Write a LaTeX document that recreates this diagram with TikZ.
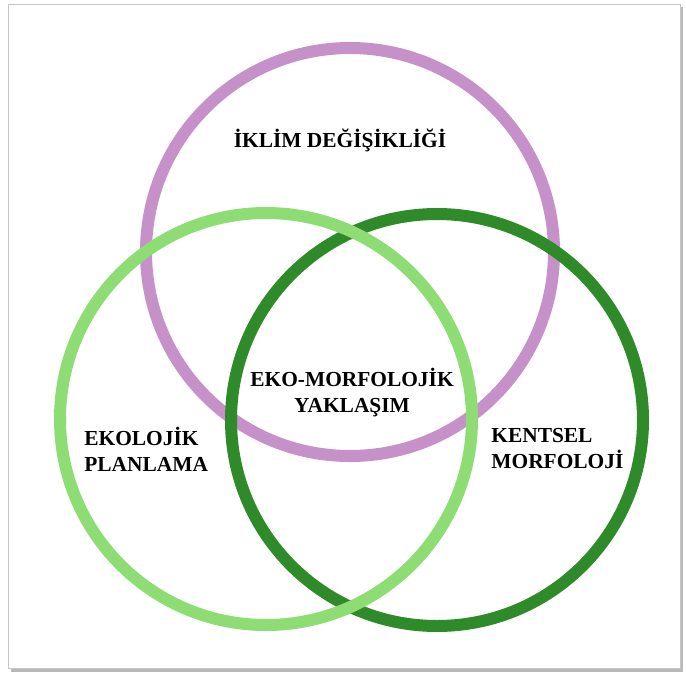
\documentclass[tikz,border=0pt]{standalone}
\usepackage{fontspec}
\setmainfont{Liberation Serif}
\definecolor{iklimmor}{HTML}{C690C8}
\definecolor{acikyesil}{HTML}{8EDC74}
\definecolor{koyuyesil}{HTML}{2F8A2A}
\tikzset{
  halka/.style={line width=6pt},
  baslik/.style={font=\fontsize{10.7}{13}\selectfont\bfseries, align=left, inner sep=0pt}
}
\begin{document}
\begin{tikzpicture}[x=0.5pt,y=-0.5pt]
            \useasboundingbox (0,0) rectangle (686,675);
            % cerceve ve golge
            \fill[gray!55] (11,7) rectangle (683,672);
            \filldraw[fill=white, draw=gray!45] (8,4) rectangle (680,668);
            % halkalar
            \draw[halka, iklimmor] (350,252) circle (204);
            \draw[halka, koyuyesil] (437,420) circle (206);
            \draw[halka, acikyesil] (266,419) circle (206);
            % yazilar
            \node[baslik] (iklim) at (340,140) {İKLİM DEĞİŞİKLİĞİ};
            \node[baslik, align=center] (eko) at (352,393) {EKO-MORFOLOJİK\\YAKLAŞIM};
            \node[baslik, anchor=west] (planlama) at (84,449) {EKOLOJİK\\PLANLAMA};
            \node[baslik, anchor=west] (kentsel) at (491,449) {KENTSEL\\MORFOLOJİ};
        \end{tikzpicture}
\end{document}
